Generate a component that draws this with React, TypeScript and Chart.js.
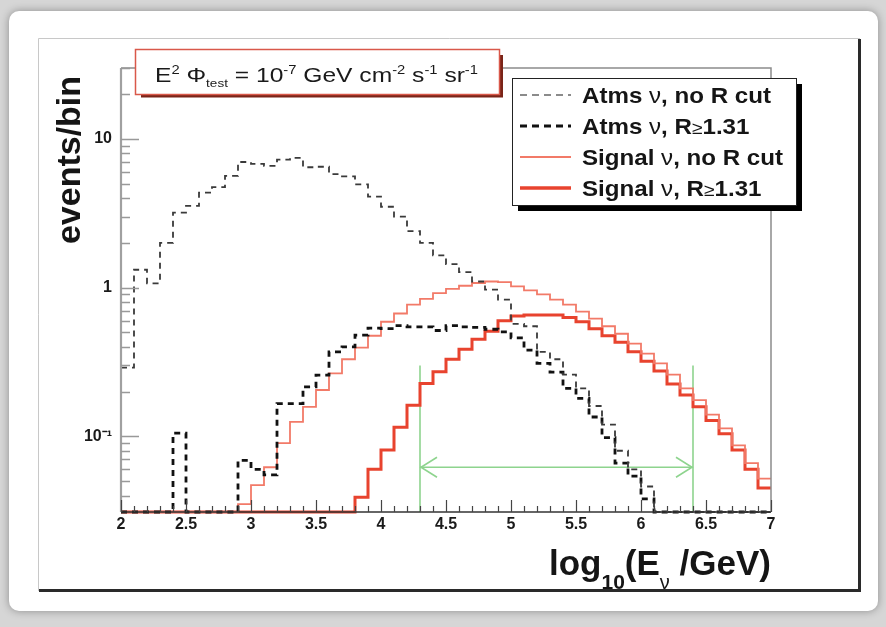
import React, { useEffect, useRef } from 'react';
import { Chart, registerables } from 'chart.js';

Chart.register(...registerables);

// ---------------- data ----------------
const X_MIN = 2;
const X_MAX = 7;
const BIN_WIDTH = 0.1;
const Y_MIN = 0.031;
const Y_MAX = 30;

const X_TICKS = [2, 2.5, 3, 3.5, 4, 4.5, 5, 5.5, 6, 6.5, 7];
const Y_TICKS = [0.1, 1, 10];
const Y_TICK_LABELS = ['10\u207B\u00B9', '1', '10'];

// 50 bins of 0.1 in log10(E/GeV), from 2.0 to 7.0 (0 = empty bin)
const atmNoCut = [
  0.29, 1.32, 1.07, 2.0, 3.2, 3.55, 4.35, 4.75, 5.65, 7.0,
  6.8, 6.6, 7.25, 7.45, 6.45, 6.5, 5.8, 5.6, 4.95, 4.1,
  3.5, 3.0, 2.4, 2.0, 1.65, 1.44, 1.27, 1.1, 0.97, 0.83,
  0.57, 0.55, 0.37, 0.33, 0.26, 0.21, 0.16, 0.12, 0.08, 0.06,
  0.046, 0, 0, 0, 0, 0, 0, 0, 0, 0,
];
const atmRCut = [
  0, 0, 0, 0, 0.105, 0, 0, 0, 0, 0.069,
  0.06, 0.055, 0.166, 0.166, 0.215, 0.258, 0.37, 0.4, 0.48, 0.535,
  0.53, 0.555, 0.545, 0.545, 0.515, 0.555, 0.545, 0.54, 0.525, 0.505,
  0.46, 0.38, 0.31, 0.27, 0.21, 0.18, 0.135, 0.098, 0.066, 0.054,
  0.038, 0, 0, 0, 0, 0, 0, 0, 0, 0,
];
const sigNoCut = [
  0, 0, 0, 0, 0, 0, 0, 0, 0, 0.035,
  0.047, 0.062, 0.09, 0.125, 0.158, 0.205, 0.265, 0.33, 0.395, 0.475,
  0.59, 0.67, 0.77, 0.84, 0.92, 0.98, 1.03, 1.075, 1.1, 1.09,
  1.02, 0.96, 0.9, 0.83, 0.77, 0.69, 0.62, 0.55, 0.49, 0.42,
  0.36, 0.31, 0.26, 0.21, 0.175, 0.14, 0.113, 0.087, 0.066, 0.052,
];
const sigRCut = [
  0, 0, 0, 0, 0, 0, 0, 0, 0, 0,
  0, 0, 0, 0, 0, 0, 0, 0, 0.039, 0.06,
  0.081, 0.115, 0.162, 0.227, 0.272, 0.33, 0.385, 0.45, 0.51, 0.6,
  0.645, 0.655, 0.655, 0.655, 0.63, 0.59, 0.53, 0.475, 0.43, 0.37,
  0.32, 0.275, 0.225, 0.19, 0.158, 0.128, 0.104, 0.081, 0.06, 0.045,
];

const CUT_LOW = 4.3;
const CUT_HIGH = 6.4;
const CUT_ARROW_Y = 0.062;
const CUT_LINE_TOP = 0.3;

const LEGEND_LABELS = [
  'Atms \u03BD, no R cut',
  'Atms \u03BD, R\u22651.31',
  'Signal \u03BD, no R cut',
  'Signal \u03BD, R\u22651.31',
];

// ---------------- styles ----------------
const FONT = '"Liberation Sans", Arial, Helvetica, sans-serif';
const C_ATM0 = '#3a3a3a';
const C_ATM1 = '#111111';
const C_SIG0 = '#f27a68';
const C_SIG1 = '#e8432e';
const C_GREEN = '#8ed48e';

type Seg = [string, number, boolean, number]; // text, size, bold, dy

function richWidth(ctx: CanvasRenderingContext2D, segs: Seg[]) {
  let w = 0;
  for (const [t, s, b] of segs) {
    ctx.font = `${b ? 'bold ' : ''}${s}px ${FONT}`;
    w += ctx.measureText(t).width;
  }
  return w;
}

function drawRich(
  ctx: CanvasRenderingContext2D,
  segs: Seg[],
  x: number,
  y: number,
  targetW?: number,
  align: 'left' | 'right' = 'left'
) {
  const w = richWidth(ctx, segs);
  const sx = targetW ? targetW / w : 1;
  ctx.save();
  ctx.translate(align === 'right' ? x - w * sx : x, y);
  ctx.scale(sx, 1);
  ctx.textAlign = 'left';
  ctx.textBaseline = 'alphabetic';
  let cx = 0;
  for (const [t, s, b, dy] of segs) {
    ctx.font = `${b ? 'bold ' : ''}${s}px ${FONT}`;
    ctx.fillText(t, cx, dy);
    cx += ctx.measureText(t).width;
  }
  ctx.restore();
}

function legendSegs(label: string, size: number): Seg[] {
  const segs: Seg[] = [];
  let cur = '';
  for (const ch of label) {
    if (ch === '\u03BD' || ch === '\u2265') {
      if (cur) segs.push([cur, size, true, 0]);
      cur = '';
      segs.push([ch, ch === '\u2265' ? size * 0.8 : size, false, 0]);
    } else cur += ch;
  }
  if (cur) segs.push([cur, size, true, 0]);
  return segs;
}

function histPoints(values: number[]) {
  const pts = values.map((v, i) => ({ x: X_MIN + i * BIN_WIDTH, y: v > 0 ? v : Y_MIN }));
  const last = values[values.length - 1];
  pts.push({ x: X_MAX, y: last > 0 ? last : Y_MIN });
  return pts;
}

const decorPlugin = {
  id: 'decor',
  beforeDraw(chart: any) {
    const ctx: CanvasRenderingContext2D = chart.ctx;
    const W = chart.width;
    const H = chart.height;
    ctx.save();
    ctx.fillStyle = '#d6d6d6';
    ctx.fillRect(0, 0, W, H);
    ctx.shadowColor = 'rgba(0,0,0,0.35)';
    ctx.shadowBlur = 8;
    ctx.fillStyle = '#ffffff';
    ctx.beginPath();
    (ctx as any).roundRect(9, 11, 869, 600, 10);
    ctx.fill();
    ctx.shadowBlur = 0;
    ctx.shadowColor = 'transparent';
    ctx.fillStyle = '#ffffff';
    ctx.fillRect(38, 38, 822, 553);
    ctx.strokeStyle = '#c8c8c8';
    ctx.lineWidth = 1;
    ctx.beginPath();
    ctx.moveTo(38.5, 591);
    ctx.lineTo(38.5, 38.5);
    ctx.lineTo(860, 38.5);
    ctx.stroke();
    ctx.strokeStyle = '#2a2a2a';
    ctx.lineWidth = 3;
    ctx.beginPath();
    ctx.moveTo(859.5, 39);
    ctx.lineTo(859.5, 590.5);
    ctx.lineTo(39, 590.5);
    ctx.stroke();
    ctx.restore();
  },
  afterDatasetsDraw(chart: any) {
    const ctx: CanvasRenderingContext2D = chart.ctx;
    const xs = chart.scales.x;
    const ys = chart.scales.y;
    const a = chart.chartArea;
    ctx.save();

    const ay = ys.getPixelForValue(CUT_ARROW_Y);
    const xl = xs.getPixelForValue(CUT_LOW);
    const xr = xs.getPixelForValue(CUT_HIGH);
    ctx.strokeStyle = C_GREEN;
    ctx.lineWidth = 1.6;
    ctx.beginPath();
    ctx.moveTo(xl + 17, ay - 10);
    ctx.lineTo(xl + 1, ay);
    ctx.lineTo(xl + 17, ay + 10);
    ctx.moveTo(xr - 17, ay - 10);
    ctx.lineTo(xr - 1, ay);
    ctx.lineTo(xr - 17, ay + 10);
    ctx.stroke();

    ctx.strokeStyle = '#8c8c8c';
    ctx.lineWidth = 1.5;
    ctx.beginPath();
    ctx.moveTo(a.left, a.top);
    ctx.lineTo(a.right, a.top);
    ctx.lineTo(a.right, a.bottom);
    ctx.stroke();
    ctx.strokeStyle = '#333';
    ctx.beginPath();
    ctx.moveTo(a.left, a.bottom);
    ctx.lineTo(a.right, a.bottom);
    ctx.stroke();
    ctx.strokeStyle = '#a0a0a0';
    ctx.lineWidth = 2.2;
    ctx.beginPath();
    ctx.moveTo(a.left, a.top);
    ctx.lineTo(a.left, a.bottom);
    ctx.stroke();

    ctx.strokeStyle = '#999';
    ctx.lineWidth = 1.4;
    ctx.beginPath();
    for (const d of [0.01, 0.1, 1, 10]) {
      for (let k = 1; k <= 9; k++) {
        const v = k * d;
        if (v < Y_MIN || v > Y_MAX) continue;
        const py = Math.round(ys.getPixelForValue(v)) + 0.5;
        const len = k === 1 ? 18 : 9;
        ctx.moveTo(a.left, py);
        ctx.lineTo(a.left + len, py);
      }
    }
    ctx.stroke();

    ctx.strokeStyle = '#444';
    ctx.lineWidth = 1.2;
    ctx.beginPath();
    for (let k = 0; k <= 50; k++) {
      const v = X_MIN + k * 0.1;
      const px = Math.round(xs.getPixelForValue(v)) + 0.5;
      const len = k % 5 === 0 ? 12 : 6;
      ctx.moveTo(px, a.bottom);
      ctx.lineTo(px, a.bottom - len);
    }
    ctx.stroke();

    // title box
    ctx.fillStyle = '#7a2418';
    ctx.fillRect(141, 94, 362, 3.5);
    ctx.fillRect(499.5, 55, 3.5, 42);
    ctx.fillStyle = '#ffffff';
    ctx.fillRect(135, 49, 365, 46);
    ctx.strokeStyle = '#d9584a';
    ctx.lineWidth = 1.5;
    ctx.strokeRect(135.5, 49.5, 364, 45);
    ctx.fillStyle = '#1a1a1a';
    const ts = 20;
    const tsup = 12;
    drawRich(
      ctx,
      [
        ['E', ts, false, 0],
        ['2', tsup, false, -8],
        [' \u03A6', ts, false, 0],
        ['test', 11, false, 5],
        [' = 10', ts, false, 0],
        ['-7', tsup, false, -8],
        [' GeV cm', ts, false, 0],
        ['-2', tsup, false, -8],
        [' s', ts, false, 0],
        ['-1', tsup, false, -8],
        [' sr', ts, false, 0],
        ['-1', tsup, false, -8],
      ],
      155,
      82,
      323
    );

    // legend box
    ctx.fillStyle = '#000';
    ctx.fillRect(518, 206, 284, 5);
    ctx.fillRect(797, 84, 5, 127);
    ctx.fillStyle = '#fff';
    ctx.fillRect(512, 78, 285, 128);
    ctx.strokeStyle = '#222';
    ctx.lineWidth = 1;
    ctx.strokeRect(512.5, 78.5, 284, 127);
    const rows = [95, 126, 157, 188];
    const styles = [
      { c: '#666', w: 1.6, d: [7, 5] },
      { c: C_ATM1, w: 3, d: [7, 5] },
      { c: C_SIG0, w: 2, d: [] as number[] },
      { c: C_SIG1, w: 3.5, d: [] as number[] },
    ];
    const lsz = 22;
    const refW = richWidth(ctx, legendSegs(LEGEND_LABELS[2], lsz));
    const lsx = 201 / refW;
    rows.forEach((ry, i) => {
      const st = styles[i];
      ctx.strokeStyle = st.c;
      ctx.lineWidth = st.w;
      ctx.setLineDash(st.d);
      ctx.beginPath();
      ctx.moveTo(520, ry);
      ctx.lineTo(571, ry);
      ctx.stroke();
      ctx.setLineDash([]);
      ctx.fillStyle = '#151515';
      const segs = legendSegs(LEGEND_LABELS[i], lsz);
      drawRich(ctx, segs, 582, ry + 8, richWidth(ctx, segs) * lsx);
    });

    // axis titles
    ctx.fillStyle = '#151515';
    ctx.save();
    ctx.translate(80, 160);
    ctx.rotate(-Math.PI / 2);
    ctx.font = `bold 34px ${FONT}`;
    ctx.textAlign = 'center';
    ctx.textBaseline = 'alphabetic';
    ctx.fillText('events/bin', 0, 0);
    ctx.restore();

    drawRich(
      ctx,
      [
        ['log', 35, true, 0],
        ['10', 21, true, 14],
        ['(E', 35, true, 0],
        ['\u03BD', 20, false, 14],
        [' /GeV)', 35, true, 0],
      ],
      771,
      575,
      222,
      'right'
    );

    ctx.restore();
  },
};

export default function App() {
  const ref = useRef<HTMLCanvasElement>(null);
  useEffect(() => {
    const cv = ref.current;
    if (!cv) return;
    const common = { pointRadius: 0, pointHoverRadius: 0, fill: false, tension: 0, clip: { left: 2, top: 2, right: 2, bottom: 3 } };
    const chart = new Chart(cv, {
      type: 'line',
      data: {
        datasets: [
          { ...common, label: LEGEND_LABELS[0], data: histPoints(atmNoCut), borderColor: C_ATM0, borderWidth: 1.8, borderDash: [6, 5], stepped: 'before' },
          { ...common, label: LEGEND_LABELS[1], data: histPoints(atmRCut), borderColor: C_ATM1, borderWidth: 2.8, borderDash: [6, 5], stepped: 'before' },
          { ...common, label: LEGEND_LABELS[2], data: histPoints(sigNoCut), borderColor: C_SIG0, borderWidth: 1.8, stepped: 'before' },
          { ...common, label: LEGEND_LABELS[3], data: histPoints(sigRCut), borderColor: C_SIG1, borderWidth: 3, stepped: 'before' },
          { ...common, label: 'cut low', data: [{ x: CUT_LOW, y: Y_MIN }, { x: CUT_LOW, y: CUT_LINE_TOP }], borderColor: C_GREEN, borderWidth: 1.6 },
          { ...common, label: 'cut high', data: [{ x: CUT_HIGH, y: Y_MIN }, { x: CUT_HIGH, y: CUT_LINE_TOP }], borderColor: C_GREEN, borderWidth: 1.6 },
          { ...common, label: 'cut range', data: [{ x: CUT_LOW, y: CUT_ARROW_Y }, { x: CUT_HIGH, y: CUT_ARROW_Y }], borderColor: C_GREEN, borderWidth: 1.6 },
        ] as any,
      },
      options: {
        responsive: false,
        animation: false,
        events: [],
        layout: { padding: { left: 0, top: 68, right: 115, bottom: 0 } },
        plugins: { legend: { display: false }, tooltip: { enabled: false }, title: { display: false } },
        scales: {
          x: {
            type: 'linear',
            min: X_MIN,
            max: X_MAX,
            grid: { display: false, drawTicks: false },
            border: { display: false },
            afterBuildTicks: (s: any) => {
              s.ticks = X_TICKS.map((v) => ({ value: v }));
            },
            afterFit: (s: any) => {
              s.height = 115;
            },
            ticks: {
              autoSkip: false,
              maxRotation: 0,
              padding: 3,
              color: '#1a1a1a',
              font: { family: FONT, size: 16, weight: 'bold' },
              callback: (v: any) => String(v),
            },
          },
          y: {
            type: 'logarithmic',
            min: Y_MIN,
            max: Y_MAX,
            grid: { display: false, drawTicks: false },
            border: { display: false },
            afterBuildTicks: (s: any) => {
              s.ticks = Y_TICKS.map((v) => ({ value: v }));
            },
            afterFit: (s: any) => {
              s.width = 121;
            },
            ticks: {
              autoSkip: false,
              padding: 9,
              color: '#1a1a1a',
              font: { family: FONT, size: 16, weight: 'bold' },
              callback: (v: any) => {
                const i = Y_TICKS.findIndex((t) => Math.abs(t - Number(v)) < 1e-9);
                return i >= 0 ? Y_TICK_LABELS[i] : '';
              },
            },
          },
        },
      } as any,
      plugins: [decorPlugin],
    });
    return () => chart.destroy();
  }, []);
  return (
    <div style={{ position: 'fixed', left: 0, top: 0, width: 886, height: 627 }}>
      <canvas ref={ref} width={886} height={627} style={{ display: 'block', width: 886, height: 627 }} />
    </div>
  );
}
